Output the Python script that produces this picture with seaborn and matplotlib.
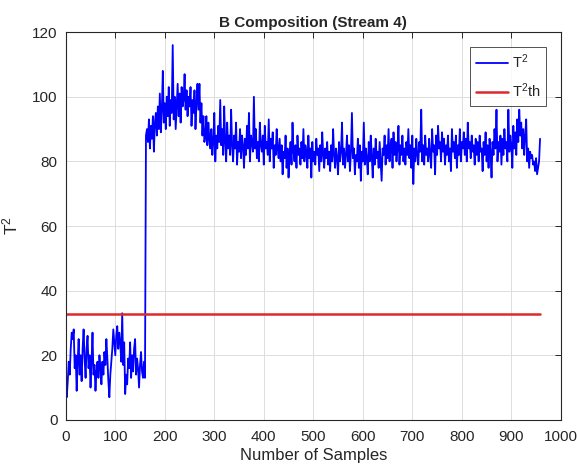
import numpy as np
import pandas as pd
import seaborn as sns
import matplotlib
matplotlib.use("Agg")
import matplotlib.pyplot as plt

# T^2 statistic (every 2nd sample)
t2_normal = [
    10, 7, 12, 18, 14, 22, 27, 25, 28, 16,
    20, 9, 18, 25, 14, 20, 12, 22, 28, 19,
    13, 22, 26, 16, 20, 10, 18, 27, 14, 17,
    9, 15, 18, 13, 20, 16, 11, 18, 14, 21,
    17, 25, 19, 12, 7, 14, 18, 22, 28, 24,
    20, 26, 29, 22, 27, 24, 18, 33, 17, 24,
    8, 14, 11, 19, 16, 24, 13, 20, 15, 22,
    25, 14, 19, 16, 10, 17, 21, 15, 13, 18, 13,
]
t2_fault_peak = [
    88, 90, 86, 93, 84, 91, 87, 94, 83, 92,
    95, 88, 97, 90, 101, 89, 96, 108, 92, 98,
    90, 100, 94, 103, 91, 99, 95, 116, 93, 100,
    90, 97, 104, 94, 101, 92, 103, 97, 99, 107,
    96, 102, 94, 100, 97, 103, 91, 99, 95, 102,
    90, 98, 104, 96, 104, 92, 98, 88, 94, 86,
]
t2_fault_steady = [
    88, 94, 85, 92, 87, 84, 90, 82, 86, 95, 80, 88, 84, 91, 86, 99, 85, 90, 82, 97, 86, 80, 92, 84, 88,
    82, 96, 85, 80, 88, 84, 92, 79, 86, 83, 90, 81, 88, 85, 78, 87, 82, 91, 84, 95, 80, 88, 86, 83, 100,
    84, 90, 81, 86, 80, 92, 85, 83, 88, 79, 91, 84, 86, 82, 93, 80, 87, 84, 89, 78, 85, 82, 90, 84, 81,
    87, 80, 85, 76, 83, 81, 88, 78, 84, 75, 82, 86, 79, 92, 83, 80, 85, 78, 88, 82, 84, 79, 86, 81, 90,
    80, 85, 83, 78, 88, 81, 84, 75, 86, 80, 83, 79, 87, 82, 84, 77, 85, 80, 89, 82, 78, 84, 81, 86, 79,
    83, 77, 85, 80, 90, 82, 78, 84, 81, 76, 86, 80, 83, 92, 79, 84, 78, 82, 88, 80, 85, 77, 83, 95, 81,
    84, 76, 82, 80, 87, 78, 85, 74, 83, 80, 92, 79, 84, 81, 76, 86, 80, 88, 82, 75, 84, 79, 87, 81, 83,
    78, 86, 80, 74, 84, 82, 88, 79, 85, 81, 90, 80, 84, 87, 78, 89, 82, 86, 80, 84, 91, 79, 85, 82, 88,
    80, 84, 79, 86, 82, 90, 81, 85, 78, 88, 73, 84, 80, 87, 82, 79, 86, 83, 96, 80, 85, 79, 88, 82, 84,
    80, 87, 82, 78, 90, 83, 85, 76, 88, 82, 91, 84, 86, 80, 89, 83, 87, 79, 85, 82, 88, 80, 84, 77, 90,
    83, 86, 81, 88, 78, 85, 82, 90, 80, 86, 84, 89, 82, 87, 80, 92, 84, 86, 81, 88, 83, 85, 79, 87, 82,
    86, 80, 88, 83, 84, 77, 86, 82, 89, 80, 85, 78, 87, 83, 75, 86, 82, 90, 84, 96, 80, 86, 83, 88, 79,
    87, 82, 90, 84, 86, 80, 96, 83, 88, 85, 78, 91, 84, 89, 82, 93, 86, 96, 88, 92, 84, 90, 82, 88, 93,
    80, 84, 78, 83, 81, 82, 79, 80, 77, 81, 76, 78, 80, 87,
]
t2_threshold = 32.8
sample_step = 2

t2 = t2_normal + t2_fault_peak + t2_fault_steady
samples = np.arange(len(t2)) * sample_step
df = pd.DataFrame({"sample": samples, "T2": t2, "T2th": t2_threshold})

sns.set_style("white")
plt.rcParams["font.family"] = ["Liberation Sans", "DejaVu Sans"]
plt.rcParams["mathtext.fontset"] = "custom"
plt.rcParams["mathtext.rm"] = "Liberation Sans"
plt.rcParams["mathtext.it"] = "Liberation Sans"

fig = plt.figure(figsize=(5.77, 4.66), dpi=100)
ax = fig.add_axes([0.114, 0.099, 0.858, 0.832])

sns.lineplot(data=df, x="sample", y="T2", ax=ax, color="#0000FF", linewidth=1.3, label="T$^2$")
sns.lineplot(data=df, x="sample", y="T2th", ax=ax, color="#DC2A2A", linewidth=1.8, label="T$^2$th")

ax.set_xlim(0, 1000)
ax.set_ylim(0, 120)
ax.set_xticks(range(0, 1001, 100))
ax.set_yticks(range(0, 121, 20))
ax.grid(True, color="#dddddd", linewidth=0.7)
ax.tick_params(direction="in", top=True, right=True, length=4, width=0.7,
               colors="#262626", labelsize=11)
ax.tick_params(axis="x", pad=7)
ax.tick_params(axis="y", pad=6)
for sp in ax.spines.values():
    sp.set_color("#262626")
    sp.set_linewidth(0.8)

ax.set_title("B Composition (Stream 4)", fontsize=11, fontweight="bold", pad=4)
ax.set_xlabel("Number of Samples", fontsize=12, color="#262626", labelpad=3)
ax.set_ylabel("T$^2$", fontsize=12.5, color="#262626", labelpad=8)

leg = ax.legend(loc="upper right", fontsize=10.5, frameon=True, fancybox=False,
                edgecolor="#262626", handlelength=2.2, handletextpad=0.3,
                borderaxespad=1.0, labelspacing=0.7)
leg.get_frame().set_linewidth(0.7)

fig.savefig("out.png", dpi=100)
